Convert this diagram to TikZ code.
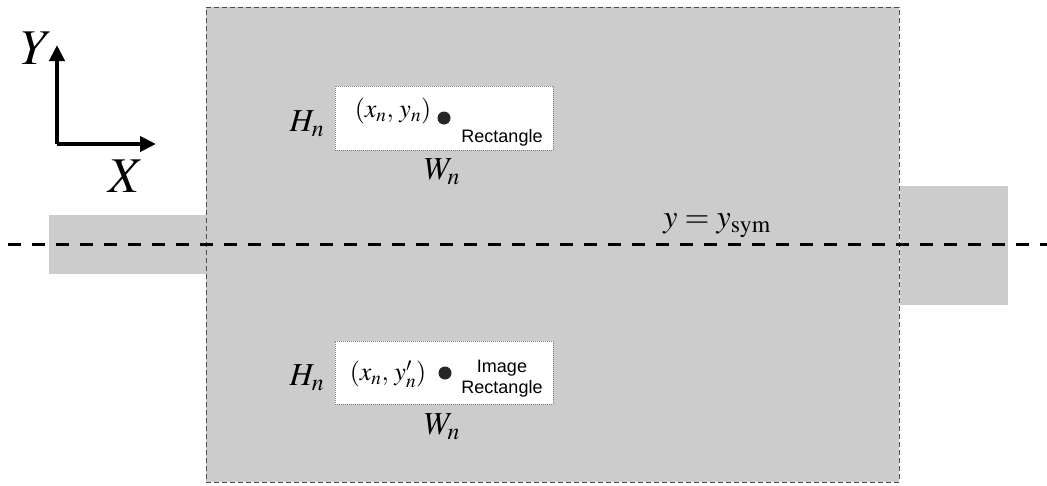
\documentclass[tikz,border=0pt]{standalone}
\usepackage{mathptmx}
\usepackage{fontspec}
\setmainfont{Liberation Serif}
\newfontfamily\arialfont{Liberation Sans}
\usetikzlibrary{arrows.meta}
\definecolor{bodygray}{HTML}{CCCCCC}
\definecolor{edgegray}{HTML}{4A4A4A}
\tikzset{
  region/.style={fill=bodygray, draw=none, inner sep=0pt, outer sep=0pt},
  mainbody/.style={fill=bodygray, draw=edgegray, line width=1pt, dash pattern=on 5pt off 3pt, inner sep=0pt, outer sep=0pt},
  whitebox/.style={fill=white, draw=gray, line width=0.8pt, dash pattern=on 1pt off 1pt, inner sep=0pt, outer sep=0pt, minimum width=218pt, minimum height=63pt},
  symline/.style={line width=3pt, dash pattern=on 13pt off 11pt},
  axisarrow/.style={line width=4pt, -{Triangle[length=16pt,width=15pt]}},
  mathlabel/.style={inner sep=0pt, font=\fontsize{32}{36}\selectfont},
  biglabel/.style={inner sep=0pt, font=\fontsize{50}{52}\selectfont},
  coordlabel/.style={inner sep=0pt, font=\fontsize{26}{30}\selectfont},
  sanslabel/.style={inner sep=0pt, align=center, font=\arialfont\fontsize{18}{21}\selectfont},
  blackdot/.style={circle, fill=black!85, inner sep=0pt, minimum size=13pt}
}
\begin{document}
\begin{tikzpicture}[x=1pt,y=-1pt]
\useasboundingbox (0,0) rectangle (1047,485);
% stubs
\node[region, minimum width=157pt, minimum height=59pt] (lstub) at (127.5,244.5) {};
\node[region, minimum width=108pt, minimum height=119pt] (rstub) at (954,245) {};
% main body
\node[mainbody, minimum width=693pt, minimum height=475pt] (main) at (552.5,244.5) {};
% symmetry line
\coordinate (symL) at (8,244);
\coordinate (symR) at (1047,244);
\draw[symline] (symL) -- (symR);
\node[mathlabel] (symlabel) at (717,226) {$y=y_{\mathrm{sym}}$};
% axes
\coordinate (orig) at (57,144);
\coordinate (ytip) at (57,45);
\coordinate (xtip) at (156,144);
\draw[axisarrow] (orig) -- (ytip);
\draw[axisarrow] (orig) -- (xtip);
\node[biglabel] (Ylab) at (37,48) {$Y$};
\node[biglabel] (Xlab) at (126,176) {$X$};
% rectangle 1
\node[whitebox, minimum height=64pt] (rect1) at (444,118) {};
\node[coordlabel] (c1) at (393,111) {$(x_n,\,y_n)$};
\node[blackdot] (d1) at (444,118) {};
\node[sanslabel] (t1) at (502,138) {Rectangle};
\node[mathlabel] (H1) at (307,124) {$H_n$};
\node[mathlabel] (W1) at (442,172) {$W_n$};
% rectangle 2
\node[whitebox] (rect2) at (444,372.5) {};
\node[coordlabel] (c2) at (388,374) {$(x_n,\,y'_n)$};
\node[blackdot] (d2) at (445,373) {};
\node[sanslabel] (t2) at (502,379) {Image\\Rectangle};
\node[mathlabel] (H2) at (307,378) {$H_n$};
\node[mathlabel] (W2) at (442,427) {$W_n$};
\end{tikzpicture}
\end{document}
